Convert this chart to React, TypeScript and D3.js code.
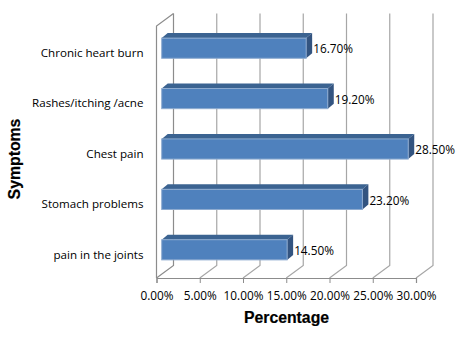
import React, { useEffect, useRef } from "react";
import { select, scaleBand, scaleLinear, axisBottom, axisLeft } from "d3";

const symptoms = ["Chronic heart burn", "Rashes/itching /acne", "Chest pain", "Stomach problems", "pain in the joints"];
const percentages = [16.7, 19.2, 28.5, 23.2, 14.5];
const xTicks = [0, 5, 10, 15, 20, 25, 30];

const labelFont = "'Open Sans', 'Noto Sans', sans-serif";
const titleFont = "'Liberation Sans', Arial, sans-serif";

function App() {
  const svgRef = useRef<SVGSVGElement>(null);

  useEffect(() => {
    const svg = select(svgRef.current);
    svg.selectAll("*").remove();

    const left = 156.5;
    const right = 416;
    const top = 26;
    const bottom = 278;
    const depthX = 17;
    const depthY = -12.5;
    const barDepthX = 6;
    const barDepthY = -5;
    const barInset = 5.2;

    //scales
    const xScale = scaleLinear().domain([0, 30]).range([left, right]);
    const yScale = scaleBand().domain(symptoms).range([top, bottom]).paddingInner(0.6).paddingOuter(0.3);

    //walls and gridlines
    const grid = svg.append("g");
    grid
      .selectAll("path")
      .data(xTicks)
      .join("path")
      .attr("d", d => {
        const x = xScale(d);
        return `M${x},${bottom}L${x + depthX},${bottom + depthY}V${top + depthY}`;
      })
      .attr("fill", "none")
      .attr("stroke", (d, i) => (i === 0 ? "#8c8c8c" : "#a6a6a6"))
      .attr("stroke-width", 1.2);

    grid
      .append("path")
      .attr("d", `M${left},${bottom}V${top}L${left + depthX},${top + depthY}`)
      .attr("fill", "none")
      .attr("stroke", "#8c8c8c")
      .attr("stroke-width", 1.2);

    //axes
    const xAxis = axisBottom(xScale)
      .tickValues(xTicks)
      .tickSize(5)
      .tickPadding(9)
      .tickFormat(d => `${Number(d).toFixed(2)}%`);
    const xg = svg.append("g").attr("transform", `translate(0, ${bottom})`).call(xAxis);
    xg.select(".domain").attr("stroke", "#8c8c8c").attr("stroke-width", 1.2);
    xg.selectAll(".tick line").attr("stroke", "#8c8c8c");
    xg.selectAll("text").attr("font-family", labelFont).attr("font-size", 11.8).attr("fill", "#000");

    const yAxis = axisLeft(yScale).tickSize(0).tickPadding(13);
    const yg = svg.append("g").attr("transform", `translate(${left}, 2)`).call(yAxis);
    yg.select(".domain").remove();
    yg.selectAll("text").attr("font-family", labelFont).attr("font-size", 11.6).attr("fill", "#000");

    //bars
    const bars = svg
      .selectAll(".bar")
      .data(symptoms)
      .join("g")
      .attr("class", "bar")
      .attr("transform", "translate(0, -3)");

    const x0 = left + barInset;
    const barEnd = (i: number) => xScale(percentages[i]) + barInset;

    bars
      .append("path")
      .attr("d", (d, i) => {
        const y = yScale(d);
        return `M${x0},${y}l${barDepthX},${barDepthY}H${barEnd(i) + barDepthX}l${-barDepthX},${-barDepthY}Z`;
      })
      .attr("fill", "#3b6391");

    bars
      .append("path")
      .attr("d", (d, i) => {
        const y = yScale(d);
        const h = yScale.bandwidth();
        return `M${barEnd(i)},${y}l${barDepthX},${barDepthY}v${h}l${-barDepthX},${-barDepthY}Z`;
      })
      .attr("fill", "#335480");

    bars
      .append("rect")
      .attr("x", x0)
      .attr("y", d => yScale(d))
      .attr("width", (d, i) => barEnd(i) - x0)
      .attr("height", yScale.bandwidth())
      .attr("fill", "#4f81bd")
      .attr("stroke", "#8eabd0")
      .attr("stroke-width", 1);

    //value labels
    svg
      .selectAll(".value")
      .data(symptoms)
      .join("text")
      .attr("class", "value")
      .attr("x", (d, i) => barEnd(i) + barDepthX + 1)
      .attr("y", d => yScale(d) + yScale.bandwidth() / 2 - 2)
      .attr("dy", "0.35em")
      .attr("font-family", labelFont)
      .attr("font-size", 11.8)
      .attr("fill", "#000")
      .text((d, i) => `${percentages[i].toFixed(2)}%`);

    //axis titles
    svg
      .append("text")
      .attr("x", 286.5)
      .attr("y", 323)
      .attr("text-anchor", "middle")
      .attr("font-family", titleFont)
      .attr("font-weight", "bold")
      .attr("font-size", 15.8)
      .attr("stroke", "#000")
      .attr("stroke-width", 0.2)
      .text("Percentage");

    svg
      .append("text")
      .attr("transform", `translate(20, ${(top + bottom) / 2 + 7}) rotate(-90)`)
      .attr("text-anchor", "middle")
      .attr("font-family", titleFont)
      .attr("font-weight", "bold")
      .attr("font-size", 15.8)
      .attr("stroke", "#000")
      .attr("stroke-width", 0.2)
      .text("Symptoms");
  }, []);

  return (
    <svg
      ref={svgRef}
      width={469}
      height={343}
      style={{ position: "absolute", left: 0, top: 0, background: "#fff" }}
    />
  );
}

export default App;
